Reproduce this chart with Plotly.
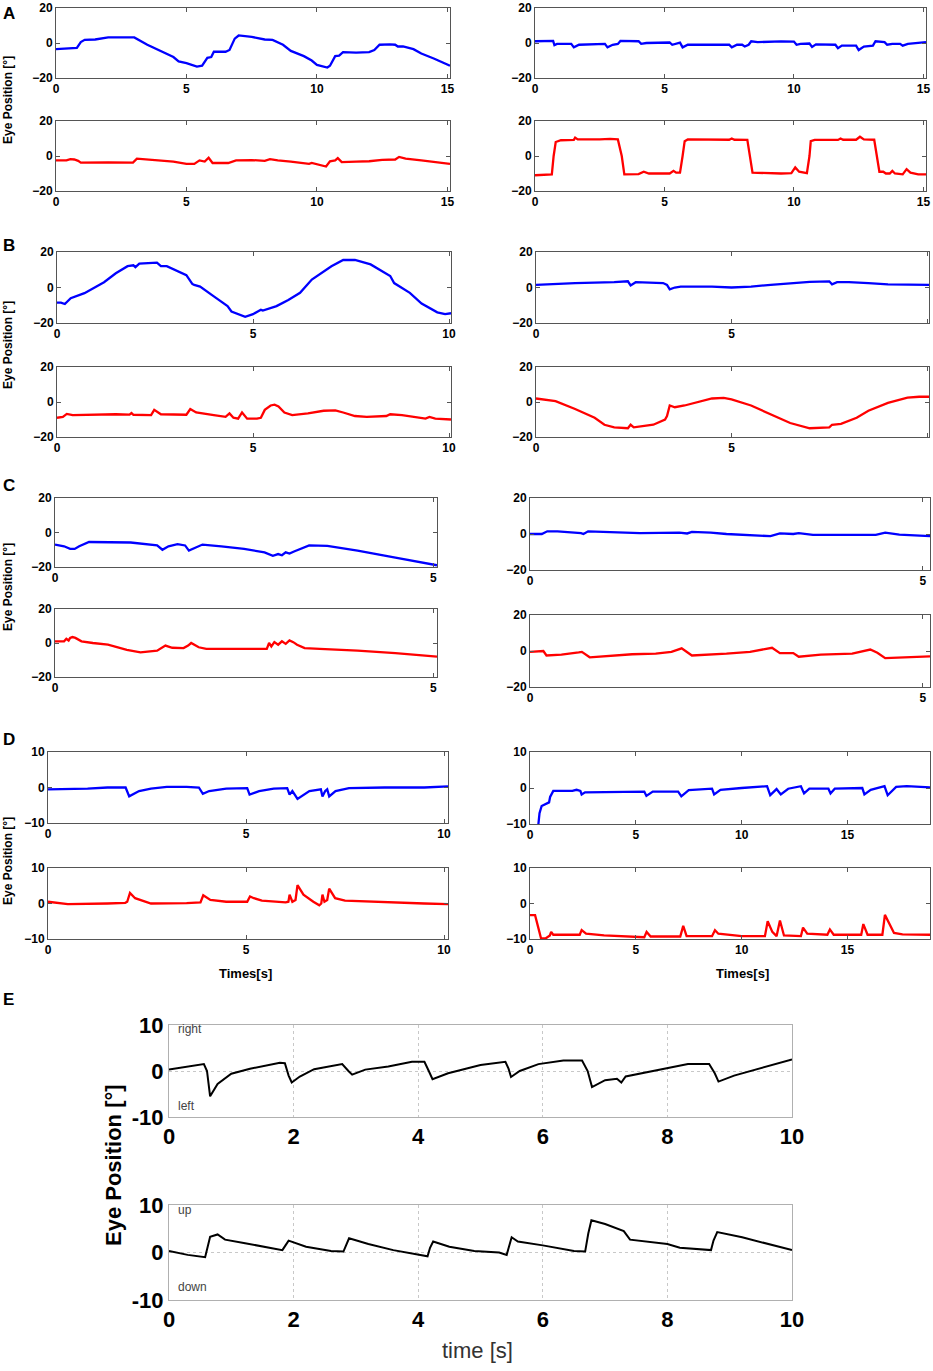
import plotly.graph_objects as go

W, H = 933, 1371

# ---- A (15 s recordings) ----
a_left_top_t = [0, 0.5, 0.8, 0.95, 1.1, 1.5, 2.0, 2.5, 3.0, 3.5, 4.0, 4.5, 4.7, 5.0, 5.4, 5.6, 5.8, 5.95, 6.05, 6.5,
                6.65, 6.85, 7.0, 7.5, 8.0, 8.3, 8.7, 9.0, 9.5, 9.8, 10.0, 10.4, 10.5, 10.7, 10.85, 11.0, 11.5, 12.0,
                12.2, 12.4, 12.8, 13.0, 13.1, 13.3, 13.7, 14.0, 14.5, 15.1]
a_left_top_y = [-3.5, -3.0, -2.8, 0.5, 1.8, 2.0, 3.2, 3.2, 3.2, -1.0, -4.5, -8.0, -10.5, -11.5, -13.5, -13.0, -8.5,
                -8.0, -5.0, -5.0, -4.0, 2.5, 4.3, 3.5, 2.0, 1.8, -1.0, -4.5, -7.5, -10.0, -12.5, -14.0, -13.0, -7.5,
                -7.2, -5.2, -5.5, -5.2, -4.0, -1.0, -0.8, -1.0, -2.0, -2.0, -3.5, -6.0, -9.0, -13.0]
a_left_bot_t = [0, 0.4, 0.55, 0.7, 0.85, 0.95, 2.0, 2.95, 3.1, 3.5, 4.0, 4.5, 5.0, 5.3, 5.5, 5.7, 5.85, 6.0, 6.6, 6.9,
                7.5, 8.0, 8.2, 8.5, 9.0, 9.7, 9.8, 10.35, 10.5, 10.7, 10.8, 10.95, 11.5, 12.0, 12.5, 13.0, 13.15,
                13.4, 14.0, 14.5, 15.1]
a_left_bot_y = [-2.5, -2.5, -1.8, -2.0, -2.8, -3.8, -3.6, -3.8, -1.5, -2.0, -2.5, -3.2, -4.5, -4.5, -2.5, -3.2, -1.0,
                -4.0, -4.0, -2.5, -2.3, -2.8, -1.8, -2.5, -3.2, -4.5, -4.0, -6.0, -3.0, -2.5, -1.2, -3.5, -3.2, -3.0,
                -2.2, -2.0, -0.5, -1.5, -2.5, -3.5, -4.5]
a_right_top_t = [0, 0.7, 0.75, 0.85, 1.4, 1.5, 1.7, 2.7, 2.8, 3.0, 3.2, 3.3, 4.0, 4.1, 4.3, 5.2, 5.3, 5.5, 5.6, 5.7,
                 5.9, 7.5, 7.6, 7.8, 8.0, 8.1, 8.25, 8.35, 8.6, 9.5, 10.0, 10.1, 10.25, 10.6, 10.7, 10.85, 11.6, 11.7,
                 11.85, 12.4, 12.5, 12.7, 13.05, 13.15, 13.5, 13.6, 13.8, 14.1, 14.2, 14.4, 15.1]
a_right_top_y = [1.0, 1.2, -1.2, -0.5, -0.5, -2.5, -1.0, -0.5, -2.5, -1.0, -0.5, 1.2, 1.0, -0.5, 0.0, 0.3, -1.0, 0.0,
                 0.2, -2.5, -1.0, -1.0, -2.5, -1.0, -1.0, -2.0, -1.0, 1.0, 0.5, 0.9, 0.8, -1.0, -0.5, -0.3, -2.2,
                 -0.8, -1.0, -3.0, -1.5, -1.5, -4.0, -2.0, -1.5, 1.0, 0.5, -1.0, -0.5, -0.5, -1.5, -0.5, 0.5]
a_right_bot_t = [0, 0.65, 0.72, 0.8, 1.0, 1.5, 1.55, 1.65, 2.5, 2.9, 3.2, 3.35, 3.45, 4.0, 4.2, 4.4, 5.2, 5.35, 5.45,
                 5.6, 5.7, 5.78, 5.9, 7.5, 7.6, 7.7, 8.2, 8.3, 8.4, 9.5, 9.9, 10.05, 10.2, 10.5, 10.6, 10.65, 10.8,
                 11.7, 11.8, 11.9, 12.4, 12.55, 12.7, 13.1, 13.2, 13.3, 13.45, 13.55, 13.7, 13.8, 13.9, 14.2, 14.35,
                 14.5, 14.8, 15.1]
a_right_bot_y = [-11, -10.5, 0, 8, 9, 9.2, 10.5, 9.5, 9.5, 9.8, 9.5, 0, -10.5, -10.3, -9, -10, -10, -8.5, -9.5, -9.5,
                 0, 8.5, 9.5, 9.3, 10, 9.3, 9.2, 0, -9.5, -10, -9.8, -6.5, -9, -9.8, 0, 8.5, 9.2, 9.2, 10, 9.3, 9.3,
                 11, 9.5, 9.3, 0, -9, -9, -10, -10, -8.5, -10, -10.5, -7.5, -9.5, -10.5, -10.5]

# ---- B (10 s recordings) ----
b_left_top_t = [0, 0.1, 0.2, 0.35, 0.7, 1.2, 1.5, 1.8, 1.95, 2.0, 2.1, 2.55, 2.65, 2.8, 3.3, 3.45, 3.5, 3.65, 4.0,
                4.35, 4.45, 4.8, 5.0, 5.2, 5.25, 5.6, 5.9, 6.2, 6.5, 6.8, 7.0, 7.3, 7.6, 8.0, 8.4, 8.5, 8.6, 9.0, 9.3,
                9.5, 9.7, 9.9, 10.05]
b_left_top_y = [-8.5, -8.5, -9.3, -6.0, -3.2, 3.0, 8.0, 12.0, 12.5, 11.5, 13.5, 14.0, 12.0, 12.0, 7.0, 2.0, 1.5, 0.5,
                -5.0, -10.5, -13.5, -16.5, -15.0, -12.5, -13.0, -10.5, -7.0, -3.0, 4.5, 9.0, 12.0, 15.5, 15.5, 13.0,
                8.0, 6.5, 2.5, -3.0, -9.0, -11.5, -14.0, -15.0, -14.5]
b_left_bot_t = [0, 0.15, 0.25, 0.4, 1.5, 1.85, 1.9, 1.95, 2.4, 2.48, 2.65, 3.3, 3.4, 3.55, 4.0, 4.3, 4.4, 4.5, 4.62,
                4.72, 4.85, 5.1, 5.2, 5.3, 5.45, 5.55, 5.65, 5.8, 6.0, 6.4, 6.8, 7.1, 7.3, 7.6, 7.9, 8.4, 8.5, 8.8,
                9.4, 9.5, 9.65, 10.05]
b_left_bot_y = [-9, -8.5, -6.8, -7.5, -7, -7.2, -6.3, -7.3, -7.5, -4.5, -7, -7.3, -4, -6, -7.5, -8.5, -6.5, -9, -9.5,
                -6, -9.5, -9.5, -9, -4.5, -2, -1.5, -2.5, -6, -7.5, -6.5, -5, -4.8, -6, -8, -8.5, -8, -7, -7.5, -9.5,
                -8.5, -9.5, -10]
b_right_top_t = [0, 1.0, 2.0, 2.35, 2.42, 2.55, 3.25, 3.35, 3.42, 3.55, 3.7, 4.5, 5.0, 5.5, 6.0, 6.5, 7.0, 7.5, 7.57,
                 7.7, 8.0, 8.5, 9.0, 10.05]
b_right_top_y = [1.5, 2.5, 3.0, 3.5, 1.2, 3.0, 2.5, 1.5, -1.0, 0.0, 0.5, 0.5, 0.0, 0.5, 1.5, 2.5, 3.2, 3.5, 1.8, 3.0,
                 3.0, 2.5, 1.8, 1.5]
b_right_bot_t = [0, 0.5, 1.0, 1.5, 1.75, 2.0, 2.35, 2.42, 2.5, 3.0, 3.3, 3.35, 3.42, 3.55, 3.8, 4.3, 4.5, 4.8, 5.0,
                 5.5, 6.0, 6.5, 7.0, 7.5, 7.57, 7.8, 8.2, 8.5, 9.0, 9.5, 9.8, 10.05]
b_right_bot_y = [2, 0.5, -4, -9, -13, -14.5, -15, -13, -14.5, -13, -10, -8, -2, -3, -2, 1, 2, 2.3, 1.5, -2, -7, -12,
                 -15, -14.5, -13, -12.5, -9, -5, -0.5, 2.5, 3, 3]

# ---- C (5 s recordings) ----
c_left_top_t = [0, 0.12, 0.2, 0.26, 0.32, 0.45, 1.0, 1.35, 1.42, 1.5, 1.62, 1.72, 1.77, 1.85, 1.95, 2.2, 2.5, 2.77,
                2.88, 2.95, 3.0, 3.05, 3.1, 3.16, 3.36, 3.6, 4.0, 4.5, 5.05]
c_left_top_y = [-7, -8, -9.5, -9.5, -8, -5.5, -5.8, -7.5, -10, -8, -6.8, -7.5, -10.5, -9, -7, -8, -9.5, -11.5, -13.5,
                -12.5, -13.2, -11.5, -12.2, -11, -7.5, -7.8, -10.5, -14.5, -19]
c_left_bot_t = [0, 0.12, 0.15, 0.18, 0.2, 0.23, 0.27, 0.35, 0.5, 0.7, 0.95, 1.13, 1.35, 1.46, 1.55, 1.7, 1.76, 1.8,
                1.9, 2.0, 2.5, 2.8, 2.83, 2.86, 2.9, 2.95, 3.0, 3.05, 3.1, 3.15, 3.2, 3.3, 3.5, 4.0, 4.5, 5.05]
c_left_bot_y = [1, 1, 2.5, 1.5, 3, 3.5, 3, 1, 0, -1, -4, -5.5, -4.5, -1.5, -2.8, -3, -1.5, 0, -2.5, -3.5, -3.5, -3.5,
                0, -2, 0.5, -1, 1, -0.5, 1.5, 0.5, -1, -3, -3.5, -4.5, -6, -8]
c_right_top_t = [0, 0.15, 0.22, 0.35, 0.65, 0.68, 0.74, 1.0, 1.4, 1.9, 2.0, 2.06, 2.3, 2.5, 2.8, 3.06, 3.18, 3.35,
                 3.42, 3.6, 4.0, 4.4, 4.52, 4.7, 5.09]
c_right_top_y = [0, 0, 1.5, 1.5, 0.5, 0, 1.5, 1, 0.5, 0.8, 0.3, 1.2, 0.8, 0, -0.8, -1.2, 0.3, 0, 0.5, -0.5, -0.5,
                 -0.5, 0.8, -0.3, -1.2]
c_right_bot_t = [0, 0.12, 0.17, 0.21, 0.4, 0.62, 0.66, 0.76, 1.0, 1.3, 1.6, 1.8, 1.93, 2.06, 2.5, 2.8, 3.08, 3.18,
                 3.35, 3.42, 3.7, 4.1, 4.33, 4.42, 4.52, 4.75, 5.09]
c_right_bot_y = [-0.5, 0, 0, -2.5, -2, -0.8, -0.5, -3.5, -2.7, -1.8, -1.5, -0.5, 1.5, -2.5, -1.5, -0.5, 1.8, -1.2,
                 -1.2, -3.2, -2, -1.5, 0.8, -1, -4, -3.5, -3]

# ---- D (saccadic intrusions) ----
d_left_top_t = [0, 0.5, 1.0, 1.5, 1.96, 2.05, 2.3, 2.6, 3.0, 3.5, 3.81, 3.91, 4.07, 4.5, 5.03, 5.09, 5.33, 5.7, 6.04,
                6.1, 6.17, 6.23, 6.3, 6.6, 6.89, 6.93, 7.0, 7.05, 7.1, 7.26, 7.6, 8.5, 9.5, 10.1]
d_left_top_y = [-0.5, -0.5, -0.3, 0, 0, -2.5, -1, -0.3, 0.2, 0.2, 0, -1.8, -1, -0.3, -0.2, -2, -1, -0.3, -0.2, -2,
                -1, -2, -3.2, -1, -0.5, -2.5, -1, -0.5, -2.5, -1, -0.2, 0, 0, 0.3]
d_left_bot_t = [0, 0.2, 0.5, 1.5, 1.95, 2.0, 2.07, 2.2, 2.4, 2.6, 3.5, 3.85, 3.92, 4.1, 4.5, 5.03, 5.1, 5.2, 5.4, 6.0,
                6.07, 6.1, 6.17, 6.25, 6.3, 6.45, 6.7, 6.85, 6.9, 6.93, 6.98, 7.05, 7.1, 7.25, 7.5, 8.5, 9.5, 10.1]
d_left_bot_y = [0.5, 0.2, -0.2, 0, 0.2, 0.5, 3, 1.5, 0.8, 0, 0.1, 0.3, 2.3, 1, 0.5, 0.5, 2, 1.5, 0.8, 0.3, 0.5, 2.5,
                0.5, 1, 5.2, 2.5, 0.5, -0.5, 0, 2.5, 0.5, 1, 4.2, 1.5, 0.8, 0.5, 0, -0.2]
d_right_top_t = [0.38, 0.45, 0.55, 0.7, 0.9, 0.95, 1.0, 1.1, 2.0, 2.2, 2.38, 2.44, 2.6, 3.5, 5.4, 5.5, 5.8, 7.0, 7.15,
                 7.5, 8.6, 8.7, 9.0, 10.0, 11.2, 11.35, 11.65, 11.85, 12.2, 12.8, 12.95, 13.2, 14.1, 14.2, 14.4,
                 15.7, 15.8, 16.1, 16.75, 16.9, 17.3, 17.8, 18.9]
d_right_top_y = [-11, -7, -5, -4.5, -4, -2.5, -2, -0.8, -0.8, -0.5, -0.8, -1.8, -1.2, -1.2, -1, -2.2, -1, -1, -2.3,
                 -0.6, -0.2, -1.8, -0.5, 0, 0.5, -2, -0.3, -1.8, -0.2, 0.5, -1.5, -0.2, -0.2, -1.5, -0.2, 0, -1.8,
                 -0.5, 0.5, -2, 0.3, 0.5, 0.2]
d_right_bot_t = [0, 0.24, 0.4, 0.52, 0.75, 0.94, 1.0, 1.1, 2.35, 2.44, 2.65, 3.5, 5.4, 5.51, 5.7, 7.1, 7.24, 7.4, 8.6,
                 8.74, 8.9, 10.0, 11.1, 11.23, 11.45, 11.65, 11.81, 12.0, 12.8, 12.9, 13.1, 14.05, 14.17, 14.35,
                 15.65, 15.75, 15.95, 16.65, 16.77, 16.95, 17.2, 17.6, 18.9]
d_right_bot_y = [-3.3, -3.3, -7, -9.8, -9.8, -9, -8, -8.8, -8.8, -7.5, -8.5, -9, -9.5, -8, -9.3, -9.3, -6.3, -9.2,
                 -9.2, -7.5, -8.5, -9.2, -9.2, -5, -8, -9.2, -4.8, -9, -9.2, -6.8, -8.5, -8.8, -7.3, -8.8, -8.8,
                 -5.8, -8.8, -8.8, -3.2, -5.5, -8.3, -8.7, -8.8]

# ---- E (horizontal / vertical, 10 s) ----
e_horiz_t = [0, 0.3, 0.56, 0.61, 0.66, 0.78, 1.0, 1.3, 1.78, 1.86, 1.92, 1.97, 2.1, 2.33, 2.56, 2.78, 2.88, 2.94,
             3.15, 3.52, 3.9, 4.1, 4.17, 4.23, 4.48, 5.0, 5.4, 5.45, 5.49, 5.63, 5.93, 6.33, 6.63, 6.72, 6.79, 7.0,
             7.19, 7.26, 7.33, 7.96, 8.33, 8.67, 8.76, 8.82, 9.07, 10.0]
e_horiz_y = [0.3, 0.9, 1.5, 0.0, -5.5, -2.8, -0.6, 0.5, 1.8, 1.7, -1.0, -2.5, -1.2, 0.4, 1.0, 1.5, 0.0, -0.8, 0.3,
             1.0, 2.0, 2.0, 0.0, -1.8, -0.5, 1.3, 2.0, 0.5, -1.3, 0.0, 1.5, 2.3, 2.3, 0.0, -3.5, -2.0, -1.7, -2.5,
             -1.2, 0.5, 1.5, 1.5, -0.5, -2.3, -1.0, 2.5]
e_vert_t = [0, 0.3, 0.58, 0.62, 0.66, 0.78, 0.9, 1.2, 1.5, 1.82, 1.87, 1.92, 2.2, 2.6, 2.8, 2.84, 2.89, 3.2, 3.6,
            4.15, 4.19, 4.24, 4.5, 4.9, 5.3, 5.42, 5.46, 5.5, 5.6, 6.0, 6.5, 6.68, 6.73, 6.78, 7.0, 7.2, 7.3, 7.4,
            8.0, 8.2, 8.7, 8.74, 8.8, 9.2, 9.8, 10.0]
e_vert_y = [0.3, -0.5, -1.0, 1.0, 3.3, 3.8, 2.7, 2.0, 1.2, 0.5, 1.5, 2.5, 1.2, 0.3, 0.2, 1.5, 3.0, 1.8, 0.5, -0.8,
            1.0, 2.3, 1.2, 0.3, 0.0, -0.5, 1.5, 3.2, 2.3, 1.5, 0.3, 0.2, 4.0, 6.8, 6.0, 5.0, 4.5, 2.7, 1.8, 1.0,
            0.5, 2.5, 4.3, 3.2, 1.2, 0.5]

BLUE = "#0000ff"
RED = "#ff0000"
FONT = "Liberation Sans, Arial, sans-serif"
NARROW = "Liberation Sans Narrow, Arial Narrow, Liberation Sans, sans-serif"


def dom(x0, x1, y0, y1):
    # pixel box -> paper domains
    return [x0 / W, x1 / W], [1 - y1 / H, 1 - y0 / H]


# (t, y, colour, pixel box, x max, x ticks, y limit)
panels = [
    (a_left_top_t, a_left_top_y, BLUE, (56, 450, 8, 78), 15.1, [0, 5, 10, 15], 20),
    (a_left_bot_t, a_left_bot_y, RED, (56, 450, 121, 191), 15.1, [0, 5, 10, 15], 20),
    (a_right_top_t, a_right_top_y, BLUE, (535, 926, 8, 78), 15.1, [0, 5, 10, 15], 20),
    (a_right_bot_t, a_right_bot_y, RED, (535, 926, 121, 191), 15.1, [0, 5, 10, 15], 20),
    (b_left_top_t, b_left_top_y, BLUE, (57, 451, 252, 323), 10.05, [0, 5, 10], 20),
    (b_left_bot_t, b_left_bot_y, RED, (57, 451, 367, 437), 10.05, [0, 5, 10], 20),
    (b_right_top_t, b_right_top_y, BLUE, (536, 929, 252, 323), 10.05, [0, 5, 10], 20),
    (b_right_bot_t, b_right_bot_y, RED, (536, 929, 367, 437), 10.05, [0, 5, 10], 20),
    (c_left_top_t, c_left_top_y, BLUE, (55, 437, 498, 567), 5.05, [0, 5], 20),
    (c_left_bot_t, c_left_bot_y, RED, (55, 437, 609, 677), 5.05, [0, 5], 20),
    (c_right_top_t, c_right_top_y, BLUE, (530, 930, 498, 570), 5.09, [0, 5], 20),
    (c_right_bot_t, c_right_bot_y, RED, (530, 930, 615, 687), 5.09, [0, 5], 20),
    (d_left_top_t, d_left_top_y, BLUE, (48, 448, 752, 823), 10.1, [0, 5, 10], 10),
    (d_left_bot_t, d_left_bot_y, RED, (48, 448, 868, 939), 10.1, [0, 5, 10], 10),
    (d_right_top_t, d_right_top_y, BLUE, (530, 930, 752, 824), 18.9, [0, 5, 10, 15], 10),
    (d_right_bot_t, d_right_bot_y, RED, (530, 930, 868, 939), 18.9, [0, 5, 10, 15], 10),
]

fig = go.Figure()
layout = {}

small_font = dict(family=FONT, size=12, color="black", weight="bold")

for i, (t, y, col, bx, xmax, xt, ylim) in enumerate(panels, start=1):
    xd, yd = dom(*bx)
    sfx = "" if i == 1 else str(i)
    fig.add_trace(go.Scatter(x=t, y=y, mode="lines", line=dict(color=col, width=2.3),
                             xaxis="x" + sfx, yaxis="y" + sfx, hoverinfo="skip"))
    common = dict(showline=True, linecolor="#555555", linewidth=1, mirror="ticks", ticks="inside",
                  ticklen=4, tickcolor="#555555", showgrid=False, zeroline=False, tickfont=small_font,
                  automargin=False)
    layout["xaxis" + sfx] = dict(domain=xd, range=[0, xmax], tickvals=xt, anchor="y" + sfx, **common)
    layout["yaxis" + sfx] = dict(domain=yd, range=[-ylim, ylim], tickvals=[-ylim, 0, ylim],
                                 anchor="x" + sfx, **common)

# panel E
e_panels = [
    (e_horiz_t, e_horiz_y, (169, 792, 1025, 1117)),
    (e_vert_t, e_vert_y, (169, 792, 1205, 1300)),
]
big_font = dict(family=NARROW, size=22, color="black", weight="bold")
for j, (t, y, bx) in enumerate(e_panels, start=len(panels) + 1):
    xd, yd = dom(*bx)
    sfx = str(j)
    fig.add_trace(go.Scatter(x=t, y=y, mode="lines", line=dict(color="black", width=2),
                             xaxis="x" + sfx, yaxis="y" + sfx, hoverinfo="skip"))
    common = dict(showline=True, linecolor="#b0b0b0", linewidth=1, mirror=True, ticks="",
                  showgrid=True, gridcolor="#c8c8c8", griddash="dot", gridwidth=1, zeroline=False,
                  tickfont=big_font, automargin=False)
    layout["xaxis" + sfx] = dict(domain=xd, range=[0, 10], tickvals=[0, 2, 4, 6, 8, 10],
                                 anchor="y" + sfx, **common)
    layout["yaxis" + sfx] = dict(domain=yd, range=[-10, 10], tickvals=[-10, 0, 10],
                                 ticktext=["-10", "0", "10"], anchor="x" + sfx, **common)

annotations = []


def note(text, px, py, size, bold=False, angle=0, xanchor="center", color="black", family=FONT):
    annotations.append(dict(text=text, x=px / W, y=1 - py / H, xref="paper", yref="paper",
                            showarrow=False, textangle=angle, xanchor=xanchor, yanchor="middle",
                            font=dict(family=family, size=size, color=color,
                                      weight="bold" if bold else "normal")))


for letter, py in [("A", 13), ("B", 246), ("C", 486), ("D", 739), ("E", 999)]:
    note(letter, 1, py, 17, bold=True, xanchor="left")

for py in [100, 345, 587, 861]:
    note("Eye Position [°]", 8, py, 12, bold=True, angle=-90)

note("Times[s]", 246, 973, 13, bold=True)
note("Times[s]", 742, 973, 13, bold=True)

note("Eye Position [°]", 113, 1165, 22, bold=True, angle=-90)
note("time [s]", 478, 1350, 22, color="#333333", family=NARROW)
note("right", 176, 1029, 12, xanchor="left", color="#444444", family=NARROW)
note("left", 176, 1106, 12, xanchor="left", color="#444444", family=NARROW)
note("up", 176, 1210, 12, xanchor="left", color="#444444", family=NARROW)
note("down", 176, 1287, 12, xanchor="left", color="#444444", family=NARROW)

fig.update_layout(
    width=W, height=H,
    margin=dict(l=0, r=0, t=0, b=0, autoexpand=False),
    paper_bgcolor="white", plot_bgcolor="white",
    showlegend=False,
    annotations=annotations,
    **layout,
)

# page has a default 8px body margin; drop it so the figure sits at the window origin
fig.write_html("out.html", config={"displayModeBar": False},
               post_script="document.body.style.margin='0';")
